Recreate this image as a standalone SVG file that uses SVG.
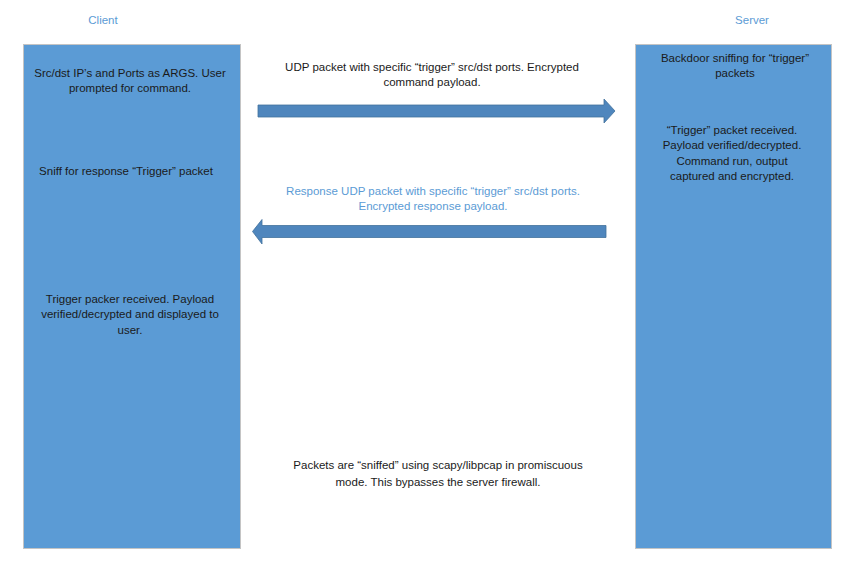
<svg xmlns="http://www.w3.org/2000/svg" width="844" height="563" viewBox="0 0 844 563">
<style>
text{font-family:"Liberation Sans",Arial,sans-serif;font-size:11.5px;text-anchor:middle;fill:#1a1a1a}
.hdr{fill:#5b9bd5}
.lbl2{fill:#5b9bd5}
.box{fill:#5b9bd5;stroke:#c4c4c4;stroke-width:1}
.arrow{fill:#4f86bd;stroke:#41719c;stroke-width:0.8}
</style>
<rect width="844" height="563" fill="#ffffff"/>
<g id="client-header"><text class="hdr" x="103" y="24">Client</text></g>
<g id="server-header"><text class="hdr" x="752" y="24">Server</text></g>
<g id="client">
<rect class="box" x="23.5" y="44.5" width="217" height="504"/>
<text x="130" y="77">Src/dst IP’s and Ports as ARGS. User</text>
<text x="130" y="92">prompted for command.</text>
<text x="126" y="175">Sniff for response “Trigger” packet</text>
<text x="130" y="303">Trigger packer received. Payload</text>
<text x="130" y="318">verified/decrypted and displayed to</text>
<text x="130" y="334">user.</text>
</g>
<g id="server">
<rect class="box" x="635.5" y="44.5" width="196" height="504"/>
<text x="735" y="62">Backdoor sniffing for “trigger”</text>
<text x="735" y="77">packets</text>
<text x="732" y="134">“Trigger” packet received.</text>
<text x="732" y="149">Payload verified/decrypted.</text>
<text x="732" y="165">Command run, output</text>
<text x="732" y="180">captured and encrypted.</text>
</g>
<g id="connectors">
<path class="arrow" d="M258,105 L604,105 L604,99 L615,111 L604,123 L604,117 L258,117 Z"/>
<path class="arrow" d="M606,225.5 L262,225.5 L262,219.5 L252.5,231.5 L262,244 L262,237.5 L606,237.5 Z"/>
</g>
<g id="request-label">
<text x="432" y="71">UDP packet with specific “trigger” src/dst ports. Encrypted</text>
<text x="432" y="86">command payload.</text>
</g>
<g id="response-label">
<text class="lbl2" x="433" y="195">Response UDP packet with specific “trigger” src/dst ports.</text>
<text class="lbl2" x="433" y="210">Encrypted response payload.</text>
</g>
<g id="note">
<text x="438" y="469">Packets are “sniffed” using scapy/libpcap in promiscuous</text>
<text x="438" y="486">mode. This bypasses the server firewall.</text>
</g>
</svg>
